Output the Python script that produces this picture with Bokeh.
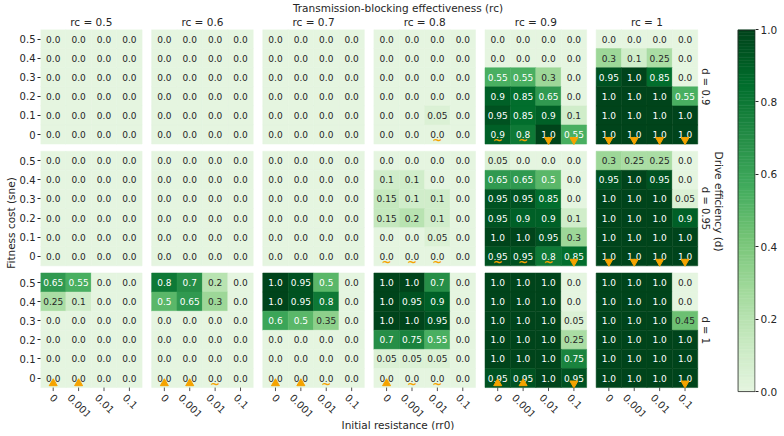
import math
from bokeh.plotting import figure
from bokeh.models import (ColumnDataSource, Range1d, LinearAxis, FixedTicker, Title,
                          LinearColorMapper, PrintfTickFormatter)
from bokeh.transform import transform
from bokeh.core.properties import value
from bokeh.embed import file_html
from bokeh.resources import INLINE
from bokeh.palettes import Greens9

# ---------------- data ----------------
rc_values = [0.5, 0.6, 0.7, 0.8, 0.9, 1]
rc_labels = ["rc = 0.5", "rc = 0.6", "rc = 0.7", "rc = 0.8", "rc = 0.9", "rc = 1"]
d_labels = ["d = 0.9", "d = 0.95", "d = 1"]
rr0_labels = ["0", "0.001", "0.01", "0.1"]
sne_labels = ["0", "0.1", "0.2", "0.3", "0.4", "0.5"]   # bottom -> top
cbar_ticks = [0, 0.2, 0.4, 0.6, 0.8, 1.0]

# each grid: rows sne = 0.5, 0.4, 0.3, 0.2, 0.1, 0 ; columns rr0 = 0, 0.001, 0.01, 0.1
Z = [0, 0, 0, 0]
d090_rc05 = [Z, Z, Z, Z, Z, Z]
d090_rc06 = [Z, Z, Z, Z, Z, Z]
d090_rc07 = [Z, Z, Z, Z, Z, Z]
d090_rc08 = [Z, Z, Z, Z, [0, 0, 0.05, 0], Z]
d090_rc09 = [Z, Z, [0.55, 0.55, 0.3, 0], [0.9, 0.85, 0.65, 0], [0.95, 0.85, 0.9, 0.1], [0.9, 0.8, 1.0, 0.55]]
d090_rc10 = [Z, [0.3, 0.1, 0.25, 0], [0.95, 1, 0.85, 0], [1, 1, 1, 0.55], [1, 1, 1, 1], [1, 1, 1, 1]]

d095_rc05 = [Z, Z, Z, Z, Z, Z]
d095_rc06 = [Z, Z, Z, Z, Z, Z]
d095_rc07 = [Z, Z, Z, Z, Z, Z]
d095_rc08 = [Z, [0.1, 0.1, 0, 0], [0.15, 0.1, 0.1, 0], [0.15, 0.2, 0.1, 0], [0, 0, 0.05, 0], Z]
d095_rc09 = [[0.05, 0, 0, 0], [0.65, 0.65, 0.5, 0], [0.95, 0.95, 0.85, 0], [0.95, 0.9, 0.9, 0.1], [1, 1, 0.95, 0.3], [0.95, 0.95, 0.8, 0.85]]
d095_rc10 = [[0.3, 0.25, 0.25, 0], [0.95, 1, 0.95, 0], [1, 1, 1, 0.05], [1, 1, 1, 0.9], [1, 1, 1, 1], [1, 1, 1, 1]]

d100_rc05 = [[0.65, 0.55, 0, 0], [0.25, 0.1, 0, 0], Z, Z, Z, Z]
d100_rc06 = [[0.8, 0.7, 0.2, 0], [0.5, 0.65, 0.3, 0], Z, Z, Z, Z]
d100_rc07 = [[1, 0.95, 0.5, 0], [1, 0.95, 0.8, 0], [0.6, 0.5, 0.35, 0], Z, Z, Z]
d100_rc08 = [[1, 1, 0.7, 0], [1, 0.95, 0.9, 0], [1, 1, 0.95, 0], [0.7, 0.75, 0.55, 0], [0.05, 0.05, 0.05, 0], Z]
d100_rc09 = [[1, 1, 1, 0], [1, 1, 1, 0], [1, 1, 1, 0.05], [1, 1, 1, 0.25], [1, 1, 1, 0.75], [0.95, 0.95, 1, 0.95]]
d100_rc10 = [[1, 1, 1, 0], [1, 1, 1, 0], [1, 1, 1, 0.45], [1, 1, 1, 1], [1, 1, 1, 1], [1, 1, 1, 1]]

# markers under the sne = 0 row: "v" down triangle, "^" up triangle, "~" tilde, "" none
marks_d090 = [["", "", "", ""], ["", "", "", ""], ["", "", "", ""],
              ["", "", "~", ""], ["~", "~", "v", "v"], ["v", "v", "v", "v"]]
marks_d095 = [["", "", "", ""], ["", "", "", ""], ["", "", "", ""],
              ["~", "~", "~", ""], ["~", "~", "~", "v"], ["v", "v", "v", "v"]]
marks_d100 = [["^", "^", "", ""], ["^", "^", "~", ""], ["^", "^", "~", ""],
              ["^", "~", "~", ""], ["^", "^", "", "v"], ["", "", "", "v"]]

grids = [
    [d090_rc05, d090_rc06, d090_rc07, d090_rc08, d090_rc09, d090_rc10],
    [d095_rc05, d095_rc06, d095_rc07, d095_rc08, d095_rc09, d095_rc10],
    [d100_rc05, d100_rc06, d100_rc07, d100_rc08, d100_rc09, d100_rc10],
]
marks = [marks_d090, marks_d095, marks_d100]

# ---------------- geometry (data units: one heat-map cell = 1) ----------------
GX = 0.375      # gap between panels (in cells)
GY = 0.375
PX = 4 + GX
PY = 6 + GY
XMAX = 5 * PX + 4
YMAX = 2 * PY + 6
SX_PX = 660 / XMAX          # approx. pixels per x unit
SY_PX = 359 / YMAX          # approx. pixels per y unit
XR = XMAX + 58 / SX_PX      # frame extends right to hold d labels + colour bar
YB = -29 / SY_PX            # frame extends down to hold the rr0 tick labels

FONT = "DejaVu Sans"
TXT = "#262626"
TICK_FS = 10
W, H = 780, 430

def fmt(v):
    s = f"{v:.2f}"
    return s[:-1] if s.endswith("0") else s

cx, cy, cv, clab, ctc = [], [], [], [], []
mdx, mdy, mux, muy, mtx, mty = [], [], [], [], [], []
for r in range(3):
    yb = (2 - r) * PY
    for pidx in range(6):
        xb = pidx * PX
        g = grids[r][pidx]
        for i in range(6):
            k = 5 - i  # sne index bottom->top
            for c in range(4):
                v = g[i][c]
                cx.append(xb + c + 0.5)
                cy.append(yb + k + 0.5)
                cv.append(v)
                clab.append(fmt(v))
                ctc.append("#ffffff" if v >= 0.5 else TXT)
        for c in range(4):
            m = marks[r][pidx][c]
            if m == "v":
                mdx.append(xb + c + 0.5); mdy.append(yb + 0.22)
            elif m == "^":
                mux.append(xb + c + 0.5); muy.append(yb + 0.22)
            elif m == "~":
                mtx.append(xb + c + 0.5); mty.append(yb + 0.2)

# palette: Greens, from light mint to dark green
base = list(reversed(Greens9))[1:]
def hex2rgb(h):
    return tuple(int(h[i:i + 2], 16) for i in (1, 3, 5))
pal = []
N = 256
for j in range(N):
    t = j / (N - 1) * (len(base) - 1)
    a = min(int(t), len(base) - 2)
    f = t - a
    c0, c1 = hex2rgb(base[a]), hex2rgb(base[a + 1])
    pal.append("#%02x%02x%02x" % tuple(round(c0[q] + (c1[q] - c0[q]) * f) for q in range(3)))
mapper = LinearColorMapper(palette=pal, low=0, high=1)

p = figure(width=W, height=H, x_range=Range1d(0, XR), y_range=Range1d(YB, YMAX),
           output_backend="svg", toolbar_location=None, x_axis_location=None,
           title="Transmission-blocking effectiveness (rc)",
           min_border_left=40, min_border_right=20, min_border_top=29, min_border_bottom=13)
p.xgrid.visible = False
p.ygrid.visible = False
p.outline_line_color = None
p.background_fill_color = "white"
p.border_fill_color = "white"

FRAME_CX = (40 + 759) / 2        # approx. canvas x of the frame centre
FRAME_CY = (29 + 417) / 2        # approx. canvas y of the frame centre
p.title.align = "center"
p.title.offset = 362 - FRAME_CX
p.title.standoff = -2
p.title.text_font = FONT
p.title.text_font_size = "10.5px"
p.title.text_font_style = "normal"
p.title.text_color = TXT

# ---- heat-map cells and annotations ----
src = ColumnDataSource(dict(x=cx, y=cy, v=cv, label=clab, tc=ctc))
p.rect(x="x", y="y", width=1, height=1, source=src,
       fill_color=transform("v", mapper), line_color=transform("v", mapper), line_width=0.5)
p.text(x="x", y="y", text="label", source=src, text_color="tc",
       text_align="center", text_baseline="middle", text_font_size="9px",
       text_font=value(FONT))

p.scatter(x=mdx, y=mdy, marker="inverted_triangle", size=8, color="#f5a300", line_color="#f5a300")
p.scatter(x=mux, y=muy, marker="triangle", size=8, color="#f5a300", line_color="#f5a300")
p.text(x=mtx, y=mty, text=["~"] * len(mtx), text_color="#f5a300", text_align="center",
       text_baseline="middle", text_font_size="12px", text_font_style="bold",
       text_font=value(FONT))

# ---- rr0 ticks and rotated labels under the bottom row ----
def ink_w(s, fs):
    return sum((0.318 if ch == "." else 0.636) for ch in s) * fs - 1
xt, lx, ly, lt = [], [], [], []
for pidx in range(6):
    for c in range(4):
        t = pidx * PX + c + 0.5
        xt.append(t)
        w = ink_w(rr0_labels[c], TICK_FS)
        lx.append(t + 1 / SX_PX)
        ly.append(-(6 + 0.354 * (w + 0.73 * TICK_FS)) / SY_PX)
        lt.append(rr0_labels[c])
p.segment(x0=xt, y0=[0] * len(xt), x1=xt, y1=[-3.5 / SY_PX] * len(xt),
          line_color=TXT, line_width=0.8)
p.text(x=lx, y=ly, text=lt, angle=-math.pi / 4, text_align="center", text_baseline="middle",
       text_font=value(FONT), text_font_size=f"{TICK_FS}px", text_color=TXT)
bt = Title(text="Initial resistance (rr0)", align="center", offset=360 - FRAME_CX, standoff=0,
           text_font=FONT, text_font_size="10.5px", text_font_style="normal", text_color=TXT)
p.add_layout(bt, "below")

# ---- left axis: sne ----
yt, yo = [], {}
for r in range(3):
    for k in range(6):
        t = (2 - r) * PY + k + 0.5
        yt.append(t); yo[t] = sne_labels[k]
ya = p.yaxis[0]
ya.ticker = FixedTicker(ticks=yt)
ya.major_label_overrides = yo
ya.axis_line_color = None
ya.major_tick_in = 0
ya.major_tick_out = 3
ya.major_tick_line_color = TXT
ya.minor_tick_line_color = None
ya.major_label_standoff = 2
ya.major_label_text_font = FONT
ya.major_label_text_font_size = f"{TICK_FS}px"
ya.major_label_text_color = TXT
lt_title = Title(text="Fitness cost (sne)", align="center", offset=FRAME_CY - 210, standoff=0,
                 text_font=FONT, text_font_size="10.5px", text_font_style="normal", text_color=TXT)
p.add_layout(lt_title, "left")

# ---- top axis: rc panels ----
tt = [pidx * PX + 2 for pidx in range(6)]
ta = LinearAxis(ticker=FixedTicker(ticks=tt),
                major_label_overrides={t: rc_labels[i] for i, t in enumerate(tt)})
ta.axis_line_color = None
ta.major_tick_in = 0
ta.major_tick_out = 0
ta.major_tick_line_color = None
ta.minor_tick_line_color = None
ta.major_label_standoff = 2
ta.major_label_text_font = FONT
ta.major_label_text_font_size = "10.5px"
ta.major_label_text_color = TXT
p.add_layout(ta, "above")

# ---- d row labels and right-hand title ----
rt = [(2 - r) * PY + 3 for r in range(3)]
p.text(x=[XMAX + 7.5 / SX_PX] * 3, y=rt, text=d_labels, angle=-math.pi / 2,
       text_align="center", text_baseline="middle", text_font=value(FONT),
       text_font_size="10px", text_color=TXT)
p.text(x=[XMAX + 21 / SX_PX], y=[YMAX / 2 + 7 / SY_PX], text=["Drive efficiency (d)"],
       angle=-math.pi / 2, text_align="center", text_baseline="middle",
       text_font=value(FONT), text_font_size="10.5px", text_color=TXT)

# ---- colour bar (drawn through the same colour mapper) ----
Y0 = -4 / SY_PX                     # bottom of the bar
BAR_X = XR - 9 / SX_PX
BAR_W = 17 / SX_PX
NB = 128
bh = (YMAX - Y0) / NB
cb_src = ColumnDataSource(dict(y=[Y0 + (j + 0.5) * bh for j in range(NB)],
                               v=[(j + 0.5) / NB for j in range(NB)]))
p.rect(x=BAR_X, y="y", width=BAR_W, height=bh, source=cb_src,
       fill_color=transform("v", mapper), line_color=transform("v", mapper), line_width=0.6)
p.rect(x=BAR_X, y=(Y0 + YMAX) / 2 - 0.3 / SY_PX, width=BAR_W, height=YMAX - Y0 - 0.6 / SY_PX,
       fill_color=None, line_color=TXT, line_width=0.8)
p.extra_y_ranges = {"cb": Range1d(start=(YB - Y0) / (YMAX - Y0), end=1.0)}
ra = LinearAxis(y_range_name="cb", ticker=FixedTicker(ticks=cbar_ticks),
                formatter=PrintfTickFormatter(format="%.1f"))
ra.axis_line_color = None
ra.major_tick_in = 0
ra.major_tick_out = 3
ra.major_tick_line_color = TXT
ra.minor_tick_line_color = None
ra.major_label_standoff = 2
ra.major_label_text_font = FONT
ra.major_label_text_font_size = "10.5px"
ra.major_label_text_color = TXT
p.add_layout(ra, "right")

open("out.html", "w").write(file_html(p, INLINE))
